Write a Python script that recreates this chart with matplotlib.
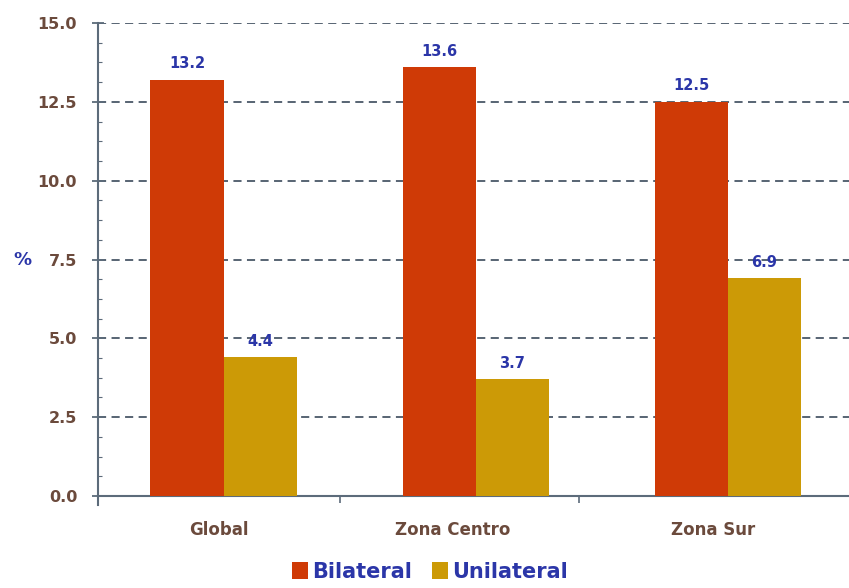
import matplotlib.pyplot as plt
import numpy as np

# data
categories = ['Global', 'Zona Centro', 'Zona Sur']
bilateral = [13.2, 13.6, 12.5]
unilateral = [4.4, 3.7, 6.9]
series_names = ['Bilateral', 'Unilateral']
y_ticks = [0.0, 2.5, 5.0, 7.5, 10.0, 12.5, 15.0]

red = '#CF3A06'
gold = '#CC9A06'
blue_txt = '#2B36A8'
brown_txt = '#6B4A3C'
axis_col = '#5C6B7A'

fig = plt.figure(figsize=(8.49, 5.88), dpi=100)
ax = fig.add_axes([98 / 849, 1 - 496 / 588, 751 / 849, 473 / 588])

x = np.arange(len(categories))
width = 0.29
b1 = ax.bar(x - width / 2, bilateral, width, color=red, label=series_names[0], zorder=3)
b2 = ax.bar(x + width / 2, unilateral, width, color=gold, label=series_names[1], zorder=3)

# value labels above the bars
for bars in (b1, b2):
    for rect in bars:
        ax.annotate('%.1f' % rect.get_height(),
                    (rect.get_x() + rect.get_width() / 2, rect.get_height()),
                    xytext=(0, 11.5), textcoords='offset points',
                    ha='center', va='center', fontsize=10.5, fontweight='bold',
                    color=blue_txt, zorder=4)

ax.set_xlim(-0.498, 2.48)
ax.set_ylim(0, 15)
ax.set_yticks(y_ticks)
ax.set_yticklabels(['%.1f' % t for t in y_ticks])
ax.set_yticks(np.arange(0, 15.01, 0.625), minor=True)

# category labels sit a bit left of the bar pairs in the original
ax.set_xticks([-0.02, 0.91, 1.94])
ax.set_xticklabels(categories)
ax.set_xticks([0.46, 1.41], minor=True)

ax.grid(axis='y', linestyle=(0, (4.5, 3)), color='#4A5868', linewidth=1.3, zorder=1)
ax.set_axisbelow(True)

for side in ('top', 'right'):
    ax.spines[side].set_visible(False)
ax.spines['left'].set_color(axis_col)
ax.spines['left'].set_linewidth(1.5)
ax.spines['left'].set_bounds(-0.3, 15)
ax.spines['bottom'].set_color(axis_col)
ax.spines['bottom'].set_linewidth(1.5)

ax.tick_params(axis='y', which='major', direction='inout', length=8, width=1.3,
               color=axis_col, labelsize=11.5, labelcolor=brown_txt, pad=11)
ax.tick_params(axis='y', which='minor', direction='in', length=3, width=0.8, color=axis_col)
ax.tick_params(axis='x', which='major', length=0, labelsize=12, labelcolor=brown_txt, pad=18)
ax.tick_params(axis='x', which='minor', direction='out', length=5, width=1.2, color=axis_col)
for lbl in ax.get_xticklabels() + ax.get_yticklabels():
    lbl.set_fontweight('bold')

ax.set_ylabel('%', rotation=0, fontsize=13, fontweight='bold', color=blue_txt, va='center')
ax.yaxis.set_label_coords(-0.1, 0.5)

leg = fig.legend(loc='center', bbox_to_anchor=(430 / 849, 1 - 572 / 588), ncol=2,
                 frameon=False, handlelength=0.75, handleheight=0.9,
                 handletextpad=0.2, columnspacing=1.0,
                 prop={'size': 15, 'weight': 'bold'})
for t in leg.get_texts():
    t.set_color(blue_txt)

plt.savefig('out.png', dpi=100)
